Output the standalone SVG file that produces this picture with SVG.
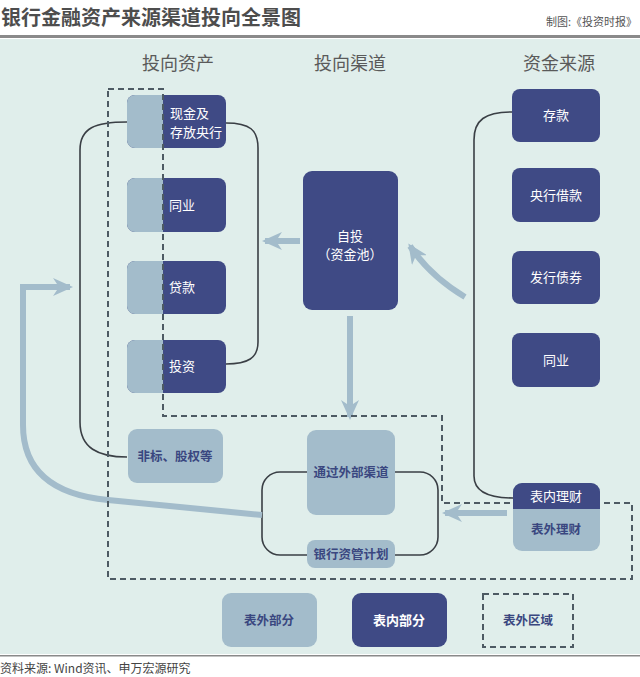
<svg xmlns="http://www.w3.org/2000/svg" width="640" height="677" viewBox="0 0 640 677">
<style>
text{font-family:"Noto Sans CJK SC","Noto Sans",sans-serif}
.title{font-size:20px;font-weight:bold;fill:#4d4d4d}
.credit{font-size:11px;fill:#555}
.hdr{font-size:18px;fill:#5a5a5a}
.dk{fill:#3f4a85}
.lt{fill:#a3bccb}
.wt{font-size:13px;fill:#ffffff}
.nt{font-size:12.5px;fill:#3a4780;font-weight:bold}
.line{fill:none;stroke:#3a3f45;stroke-width:1.6}
.arr{fill:none;stroke:#a3bccb;stroke-width:6}
.dash{fill:none;stroke:#4d5a63;stroke-width:2;stroke-dasharray:6 4}
.src{font-size:12px;fill:#444}
</style>
<defs>
<marker id="ah" markerUnits="userSpaceOnUse" markerWidth="20" markerHeight="18" viewBox="0 0 20 18" refX="17" refY="9" orient="auto">
<path d="M0,0 L20,9 L0,18 L6,9 Z" fill="#a3bccb"/>
</marker>
</defs>
<rect x="0" y="0" width="640" height="677" fill="#ffffff"/>
<rect x="0" y="39" width="640" height="615" fill="#e0eeeb"/>
<rect x="0" y="35" width="640" height="3" fill="#8a8a8a"/>
<rect x="0" y="655" width="640" height="1.5" fill="#8a8a8a"/>
<text class="title" x="1" y="25">银行金融资产来源渠道投向全景图</text>
<text class="credit" x="637" y="26" text-anchor="end">制图:《投资时报》</text>
<text class="hdr" x="178" y="70" text-anchor="middle">投向资产</text>
<text class="hdr" x="350" y="70" text-anchor="middle">投向渠道</text>
<text class="hdr" x="559" y="70" text-anchor="middle">资金来源</text>

<g id="connectors">
<path class="line" d="M127,122 C95,122 80,128 80,150 V422 C80,448 98,457 127,457"/>
<path class="line" d="M226,123 C250,123 258,130 258,148 V342 C258,358 248,364 226,364"/>
<path class="line" d="M512,112 C485,112 474,120 474,140 V476 C474,492 490,498 513,498"/>
<rect class="line" x="262" y="472" width="176" height="83" rx="18"/>
<path class="arr" d="M300,241 H265" marker-end="url(#ah)"/>
<path class="arr" d="M465,297 Q430,276 410,246" marker-end="url(#ah)"/>
<path class="arr" d="M350,316 V417" marker-end="url(#ah)"/>
<path class="arr" d="M507,513 H445" marker-end="url(#ah)"/>
<path class="arr" d="M262,515 L108,500 Q23,492 23,425 V287 H70" marker-end="url(#ah)"/>
</g>

<g id="n-cash">
<rect class="dk" x="127" y="95" width="99" height="53" rx="8"/>
<path class="lt" d="M163,95 H135 A8,8 0 0 0 127,103 V140 A8,8 0 0 0 135,148 H163 Z"/>
<text class="wt" x="170" y="118">现金及</text>
<text class="wt" x="170" y="137">存放央行</text>
</g>
<g id="n-interbank">
<rect class="dk" x="127" y="178" width="99" height="54" rx="8"/>
<path class="lt" d="M163,178 H135 A8,8 0 0 0 127,186 V224 A8,8 0 0 0 135,232 H163 Z"/>
<text class="wt" x="169" y="210">同业</text>
</g>
<g id="n-loan">
<rect class="dk" x="127" y="261" width="99" height="53" rx="8"/>
<path class="lt" d="M163,261 H135 A8,8 0 0 0 127,269 V306 A8,8 0 0 0 135,314 H163 Z"/>
<text class="wt" x="169" y="292">贷款</text>
</g>
<g id="n-invest">
<rect class="dk" x="127" y="340" width="99" height="53" rx="8"/>
<path class="lt" d="M163,340 H135 A8,8 0 0 0 127,348 V385 A8,8 0 0 0 135,393 H163 Z"/>
<text class="wt" x="169" y="371">投资</text>
</g>
<g id="n-nonstd">
<rect class="lt" x="128" y="429" width="95" height="54" rx="9"/>
<text class="nt" x="175" y="461" text-anchor="middle">非标、股权等</text>
</g>

<g id="region-offbs">
<path class="dash" d="M108,89 H163 V416 H442 V503 H632 V579 H108 Z"/>
</g>

<g id="n-self">
<rect class="dk" x="303" y="171" width="95" height="139" rx="9"/>
<text class="wt" x="350" y="241" text-anchor="middle">自投</text>
<text class="wt" x="350" y="259" text-anchor="middle">（资金池）</text>
</g>
<g id="n-external">
<rect class="lt" x="307" y="430" width="88" height="85" rx="9"/>
<text class="nt" x="351" y="477" text-anchor="middle">通过外部渠道</text>
</g>
<g id="n-am">
<rect class="lt" x="307" y="540" width="88" height="28" rx="8"/>
<text class="nt" x="351" y="559" text-anchor="middle">银行资管计划</text>
</g>

<g id="n-deposit">
<rect class="dk" x="512" y="89" width="88" height="53" rx="8"/>
<text class="wt" x="556" y="120" text-anchor="middle">存款</text>
</g>
<g id="n-cbloan">
<rect class="dk" x="512" y="168" width="88" height="54" rx="8"/>
<text class="wt" x="556" y="200" text-anchor="middle">央行借款</text>
</g>
<g id="n-bond">
<rect class="dk" x="512" y="251" width="88" height="53" rx="8"/>
<text class="wt" x="556" y="282" text-anchor="middle">发行债券</text>
</g>
<g id="n-interbank2">
<rect class="dk" x="512" y="333" width="88" height="54" rx="8"/>
<text class="wt" x="556" y="365" text-anchor="middle">同业</text>
</g>
<g id="n-wm">
<rect class="lt" x="513" y="483" width="87" height="68" rx="9"/>
<path class="dk" d="M513,509 V492 A9,9 0 0 1 522,483 H591 A9,9 0 0 1 600,492 V509 Z"/>
<text class="wt" x="556" y="501" text-anchor="middle">表内理财</text>
<text class="nt" x="556" y="534" text-anchor="middle">表外理财</text>
</g>

<g id="legend">
<rect class="lt" x="222" y="593" width="95" height="54" rx="9"/>
<text class="nt" x="269" y="625" text-anchor="middle">表外部分</text>
<rect class="dk" x="352" y="593" width="95" height="54" rx="9"/>
<text class="wt" x="399" y="625" text-anchor="middle" font-weight="bold">表内部分</text>
<rect class="dash" x="483" y="594" width="90" height="53"/>
<text class="nt" x="528" y="625" text-anchor="middle">表外区域</text>
</g>
<text class="src" x="0" y="673">资料来源: Wind资讯、申万宏源研究</text>
</svg>
